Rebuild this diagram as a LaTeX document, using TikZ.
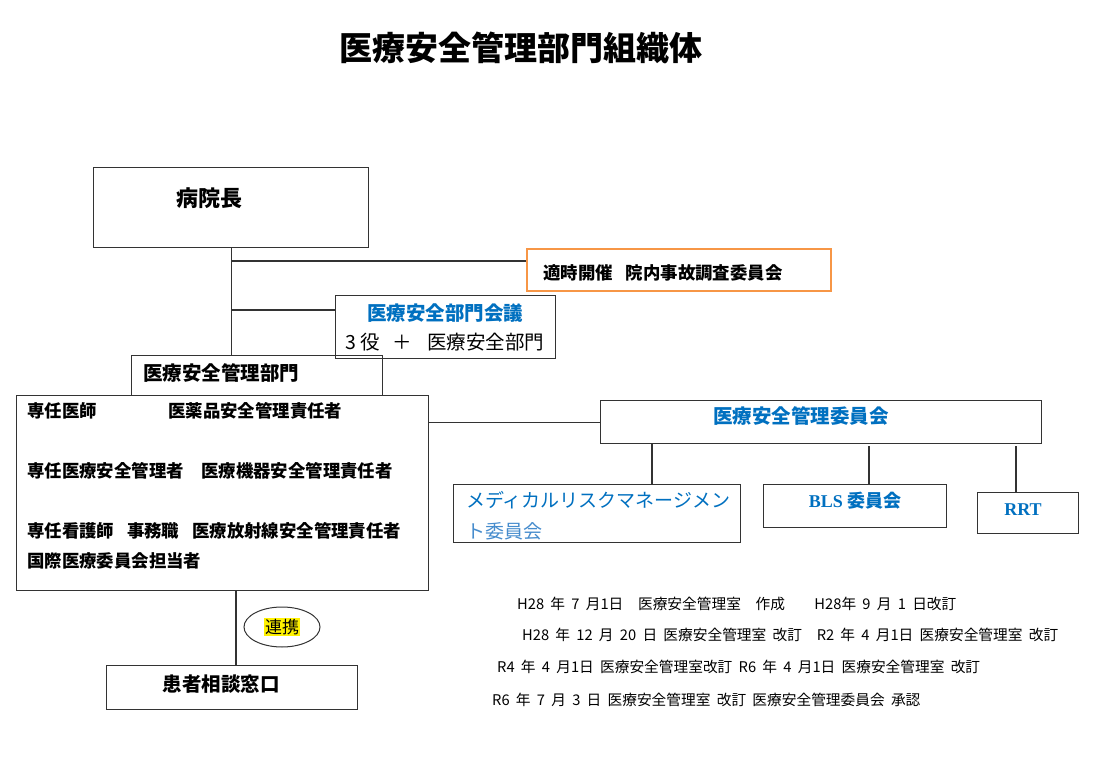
\documentclass[tikz,border=0pt]{standalone}
\usepackage{fontspec}
\setmainfont{Noto Sans CJK JP}
\newfontfamily\latinserif{Liberation Serif}
\newfontfamily\notefont{Noto Sans CJK JP}[WordSpace=1.9]
\usetikzlibrary{positioning,calc,shapes.geometric}
\definecolor{titleblue}{RGB}{0,112,192}
\definecolor{paleblue}{RGB}{70,140,205}
\definecolor{boxorange}{RGB}{247,150,70}
\tikzset{
	box/.style={draw=black!80, line width=1.3pt, inner sep=0pt, anchor=north west},
	link/.style={draw=black!80, line width=1.3pt},
	big/.style={font=\bfseries\fontsize{19.5}{22}\selectfont},
	mid/.style={font=\bfseries\fontsize{17.4}{20}\selectfont, inner sep=0pt, anchor=west},
	note/.style={font=\notefont\fontsize{14.7}{17}\selectfont, inner sep=0pt, anchor=west},
}

\begin{document}
\begin{tikzpicture}[x=1pt, y=-1pt]
	\useasboundingbox[fill=white] (0,0) rectangle (1103,759);
	\node[font=\bfseries\fontsize{33}{38}\selectfont] (title) at (521,48) {医療安全管理部門組織体};

	\node[box, minimum width=275, minimum height=80] (director) at (93,167) {};
	\node[font=\bfseries\fontsize{22}{26}\selectfont] (directortext) at (209,198) {病院長};

	\node[box, draw=boxorange, line width=1.8pt, minimum width=304, minimum height=42] (accident) at (526,248) {};
	\node[mid] (accidenttext) at (543,273) {適時開催\hspace{13pt}院内事故調査委員会};

	\node[box, minimum width=220, minimum height=63] (meeting) at (335,295) {};
	\node[big, text=titleblue] (meetingtext) at (445,313) {医療安全部門会議};
	\node[font=\fontsize{19.5}{22}\selectfont, inner sep=0pt, anchor=west] (meetingsub) at (345,342) {3 役\hspace{13pt}＋\hspace{15pt}医療安全部門};

	\node[box, minimum width=251, minimum height=40] (dept) at (131,355) {};
	\node[big, inner sep=0pt, anchor=west] (depttext) at (143,373) {医療安全管理部門};

	\node[box, minimum width=412, minimum height=195] (staff) at (16,395) {};
	\node[mid] (doctor) at (27,411) {専任医師};
	\node[mid] (pharma) at (168,411) {医薬品安全管理責任者};
	\node[mid] (manager) at (27,471) {専任医療安全管理者　医療機器安全管理責任者};
	\node[mid] (nurse) at (27,531) {専任看護師\hspace{13pt}事務職\hspace{13pt}医療放射線安全管理責任者};
	\node[mid] (intl) at (27,561) {国際医療委員会担当者};

	\node[box, minimum width=441, minimum height=43] (committee) at (600,400) {};
	\node[big, text=titleblue] (committeetext) at (801,416) {医療安全管理委員会};

	\node[box, minimum width=287, minimum height=58] (mrm) at (453,484) {};
	\node[font=\fontsize{19}{21}\selectfont, text=titleblue, inner sep=0pt, anchor=west] (mrmtext) at (466,500) {メディカルリスクマネージメン};
	\node[font=\fontsize{19}{21}\selectfont, text=paleblue, inner sep=0pt, anchor=west] (mrmtext2) at (466,531) {ト委員会};

	\node[box, minimum width=183, minimum height=43] (bls) at (763,484) {};
	\node[font=\bfseries\fontsize{18}{20}\selectfont, text=titleblue] (blstext) at (855,501) {{\latinserif BLS} 委員会};

	\node[box, minimum width=101, minimum height=41] (rrt) at (977,492) {};
	\node[font=\bfseries\fontsize{18}{20}\selectfont\latinserif, text=titleblue] (rrttext) at (1023,510) {RRT};

	\node[box, minimum width=251, minimum height=44] (counsel) at (106,665) {};
	\node[big] (counseltext) at (221,684) {患者相談窓口};

	\node[draw=black!80, line width=1pt, ellipse, minimum width=76, minimum height=40] (renkei) at (282,627) {};
	\node[fill=yellow, inner sep=1pt, font=\fontsize{17}{19}\selectfont] (renkeitext) at (renkei.center) {連携};

	\coordinate (j1) at (232,261);
	\coordinate (j2) at (231,310);
	\draw[link] (director.south) -- (director.south |- dept.north);
	\draw[link] (j1) -- (j1 -| accident.west);
	\draw[link] (j2) -- (j2 -| meeting.west);
	\draw[link] (staff.east |- committee.west) -- (committee.west);
	\draw[link] (committee.south -| 652,0) -- (mrm.north -| 652,0);
	\draw[link] (869,446) -- (bls.north -| 869,0);
	\draw[link] (1016,446) -- (rrt.north -| 1016,0);
	\draw[link] (staff.south -| 236,0) -- (counsel.north -| 236,0);

	\node[note] (rev1) at (517,604) {H28 年 7 月1日　医療安全管理室　作成　　H28年 9 月 1 日改訂};
	\node[note] (rev2) at (522,635) {H28 年 12 月 20 日 医療安全管理室 改訂　R2 年 4 月1日 医療安全管理室 改訂};
	\node[note] (rev3) at (497,667) {R4 年 4 月1日 医療安全管理室改訂 R6 年 4 月1日 医療安全管理室 改訂};
	\node[note] (rev4) at (492,700) {R6 年 7 月 3 日 医療安全管理室 改訂 医療安全管理委員会 承認};
\end{tikzpicture}
\end{document}
